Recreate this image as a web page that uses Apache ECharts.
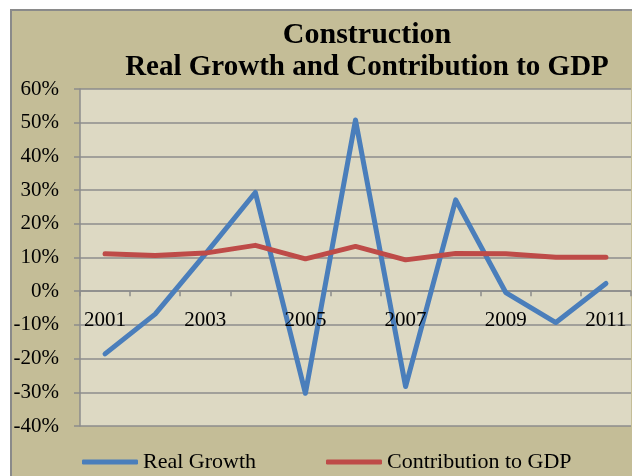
<!DOCTYPE html>
<html>
<head>
<meta charset="utf-8">
<script src="https://cdn.jsdelivr.net/npm/echarts@6/dist/echarts.min.js"></script>
<style>
  html, body { margin: 0; padding: 0; background: #ffffff; }
  #chart { width: 632px; height: 476px; }
</style>
</head>
<body>
<div id="chart"></div>
<script>
// Construction sector: annual real growth and contribution to GDP (%)
const years = ['2001', '2002', '2003', '2004', '2005', '2006', '2007', '2008', '2009', '2010', '2011'];
const realGrowth = [-18.6, -6.8, 11.0, 29.3, -30.3, 50.8, -28.3, 27.1, -0.4, -9.3, 2.3];
const contributionToGdp = [11.1, 10.6, 11.3, 13.6, 9.6, 13.3, 9.3, 11.2, 11.1, 10.1, 10.1];
const yTicks = { min: -40, max: 60, step: 10 };
const titleLines = ['Construction', 'Real Growth and Contribution to GDP'];
const seriesNames = ['Real Growth', 'Contribution to GDP'];

const FONT = "'Liberation Serif', 'Times New Roman', serif";
const GRID_LINE = '#8C8C8C';
const BLUE = '#4A7EBB';
const RED = '#BE4B48';

// plot area geometry
const GRID = { left: 80, top: 89, right: 1, bottom: 50 };
const plotHeight = 476 - GRID.top - GRID.bottom;
// lift the category axis from the bottom edge up to the 0% line
const zeroOffset = -plotHeight * (0 - yTicks.min) / (yTicks.max - yTicks.min);

const chart = echarts.init(document.getElementById('chart'), null, { renderer: 'canvas' });

const legendItem = (name, left) => ({
  data: [name],
  left: left, top: 446,
  icon: 'roundRect', itemWidth: 56, itemHeight: 5, itemGap: 0,
  textStyle: { fontFamily: FONT, fontSize: 22, color: '#000000' }
});

chart.setOption({
  backgroundColor: '#ffffff',
  animation: false,
  textStyle: { fontFamily: FONT },
  graphic: [
    {
      type: 'rect',
      z: -100,
      silent: true,
      shape: { x: 11, y: 10, width: 700, height: 500 },
      style: { fill: '#C4BD97', stroke: '#8A8A8A', lineWidth: 2 }
    },
    {
      type: 'text',
      x: 367, y: 35,
      style: {
        text: titleLines[0], align: 'center', verticalAlign: 'middle',
        font: "bold 30px " + FONT, fill: '#000000'
      }
    },
    {
      type: 'text',
      x: 367, y: 68,
      style: {
        text: titleLines[1], align: 'center', verticalAlign: 'middle',
        font: "bold 29px " + FONT, fill: '#000000'
      }
    }
  ],
  grid: {
    left: GRID.left, top: GRID.top, right: GRID.right, bottom: GRID.bottom,
    show: true, backgroundColor: '#DDD9C3', borderWidth: 0,
    containLabel: false
  },
  legend: [legendItem(seriesNames[0], 77), legendItem(seriesNames[1], 321)],
  xAxis: [
    {
      // axis line and ticks at 0%, beneath the series
      type: 'category',
      data: years,
      boundaryGap: true,
      position: 'bottom',
      offset: zeroOffset,
      axisLine: { show: true, onZero: false, lineStyle: { color: GRID_LINE, width: 1.5 } },
      axisTick: { show: true, interval: 0, length: 5, inside: false, lineStyle: { color: GRID_LINE, width: 1.5 } },
      axisLabel: { show: false },
      splitLine: { show: false }
    },
    {
      // year labels drawn above the series
      type: 'category',
      data: years,
      boundaryGap: true,
      position: 'bottom',
      offset: zeroOffset,
      z: 5,
      axisLine: { show: false, onZero: false },
      axisTick: { show: false },
      axisLabel: { interval: 1, margin: 19, fontFamily: FONT, fontSize: 21, color: '#000000' },
      splitLine: { show: false }
    }
  ],
  yAxis: {
    type: 'value',
    min: yTicks.min, max: yTicks.max, interval: yTicks.step,
    axisLine: { show: true, lineStyle: { color: GRID_LINE, width: 1.5 } },
    axisTick: { show: true, length: 6, lineStyle: { color: GRID_LINE, width: 1.5 } },
    axisLabel: { formatter: '{value}%', margin: 21, fontFamily: FONT, fontSize: 21, color: '#000000' },
    splitLine: { show: true, lineStyle: { color: GRID_LINE, width: 1.5 } }
  },
  series: [
    {
      name: seriesNames[0],
      type: 'line',
      xAxisIndex: 0,
      data: realGrowth,
      symbol: 'none',
      color: BLUE,
      lineStyle: { color: BLUE, width: 5, cap: 'round', join: 'round' }
    },
    {
      name: seriesNames[1],
      type: 'line',
      xAxisIndex: 0,
      data: contributionToGdp,
      symbol: 'none',
      color: RED,
      lineStyle: { color: RED, width: 5, cap: 'round', join: 'round' }
    }
  ]
});
</script>
</body>
</html>
